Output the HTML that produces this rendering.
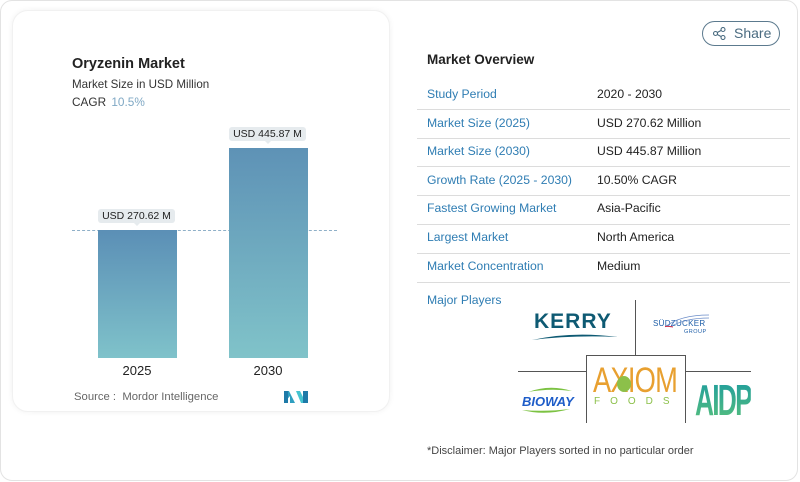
<!DOCTYPE html>
<html><head><meta charset="utf-8">
<style>
*{margin:0;padding:0;box-sizing:border-box}
html,body{width:800px;height:482px;background:#fff;overflow:hidden;font-family:"Liberation Sans",sans-serif}
.outer{position:absolute;left:0;top:0;width:798px;height:481px;border:1px solid #e3e3e3;border-radius:12px;background:#fff}
.card{position:absolute;left:12px;top:10px;width:378px;height:402px;border-radius:16px;background:#fff;box-shadow:0 0 6px rgba(0,0,0,0.06);border:1px solid #f1f1f1}
.t{position:absolute;white-space:nowrap}
.bar{position:absolute;background:linear-gradient(#5b8fb6,#7fc2ca)}
.bub{position:absolute;height:14px;background:#e6ebee;border-radius:3px;font-size:10.5px;color:#222;text-align:center;line-height:14px}
.bub:after{content:"";position:absolute;left:50%;bottom:-3px;margin-left:-3px;border-left:3px solid transparent;border-right:3px solid transparent;border-top:3px solid #e6ebee}
.lab{position:absolute;left:427px;font-size:12.2px;color:#2f7db3;white-space:nowrap}
.val{position:absolute;left:597px;font-size:12.2px;color:#222;white-space:nowrap}
.sep{position:absolute;left:417px;width:373px;height:1px;background:#dcdcdc}
.ln{position:absolute;background:#555}
</style></head><body>
<div class="outer"></div>
<div class="card"></div>

<div class="t" style="left:72px;top:56px;font-size:14.5px;font-weight:bold;color:#222">Oryzenin Market</div>
<div class="t" style="left:72px;top:78px;font-size:11.6px;color:#333">Market Size in USD Million</div>
<div class="t" style="left:72px;top:95px;font-size:11.8px;color:#333">CAGR <span style="color:#7fa8c4;margin-left:2px">10.5%</span></div>

<div class="t" style="left:72px;top:230px;width:265px;border-top:1px dashed #8fb0c8"></div>
<div class="bar" style="left:98px;top:230px;width:79px;height:128px"></div>
<div class="bar" style="left:229px;top:148px;width:79px;height:210px;background:linear-gradient(#5e92b6,#80c3c9)"></div>

<div class="bub" style="left:98px;top:209px;width:77px">USD 270.62 M</div>
<div class="bub" style="left:229px;top:127px;width:77px">USD 445.87 M</div>

<div class="t" style="left:117px;top:363px;width:40px;text-align:center;font-size:13px;color:#222">2025</div>
<div class="t" style="left:248px;top:363px;width:40px;text-align:center;font-size:13px;color:#222">2030</div>

<div class="t" style="left:74px;top:391px;font-size:11.3px;color:#666">Source :&nbsp; Mordor Intelligence</div>
<svg style="position:absolute;left:284px;top:391px" width="24" height="12" viewBox="0 0 24 12">
<polygon points="0,0 5,0 11,12 6,12 6,5 0,12" fill="#2f9fc0"/>
<polygon points="0,0 4,0 4,12 0,12" fill="#1e7aa8"/>
<polygon points="12,0 16,0 22,12 17,12" fill="#45c4d0"/>
<polygon points="19,0 24,0 24,12 19,12" fill="#1e7aa8"/>
</svg>

<div class="t" style="left:702px;top:21px;width:78px;height:25px;border:1px solid #5c7a8e;border-radius:13px"></div>
<svg style="position:absolute;left:713px;top:27px" width="13" height="13" viewBox="0 0 13 13">
<circle cx="10" cy="2.5" r="2" fill="none" stroke="#4a6b80" stroke-width="1.1"/>
<circle cx="2.5" cy="6.5" r="2" fill="none" stroke="#4a6b80" stroke-width="1.1"/>
<circle cx="10" cy="10.5" r="2" fill="none" stroke="#4a6b80" stroke-width="1.1"/>
<line x1="4.3" y1="5.5" x2="8.2" y2="3.4" stroke="#4a6b80" stroke-width="1.1"/>
<line x1="4.3" y1="7.5" x2="8.2" y2="9.6" stroke="#4a6b80" stroke-width="1.1"/>
</svg>
<div class="t" style="left:734px;top:25px;font-size:14px;color:#4a6b80">Share</div>

<div class="t" style="left:427px;top:52px;font-size:13.5px;font-weight:bold;color:#222">Market Overview</div>

<div class="lab" style="top:87px">Study Period</div><div class="val" style="top:87px">2020 - 2030</div>
<div class="sep" style="top:109px"></div>
<div class="lab" style="top:116px">Market Size (2025)</div><div class="val" style="top:116px">USD 270.62 Million</div>
<div class="sep" style="top:138px"></div>
<div class="lab" style="top:144px">Market Size (2030)</div><div class="val" style="top:144px">USD 445.87 Million</div>
<div class="sep" style="top:166px"></div>
<div class="lab" style="top:173px">Growth Rate (2025 - 2030)</div><div class="val" style="top:173px">10.50% CAGR</div>
<div class="sep" style="top:195px"></div>
<div class="lab" style="top:201px">Fastest Growing Market</div><div class="val" style="top:201px">Asia-Pacific</div>
<div class="sep" style="top:224px"></div>
<div class="lab" style="top:230px">Largest Market</div><div class="val" style="top:230px">North America</div>
<div class="sep" style="top:253px"></div>
<div class="lab" style="top:259px">Market Concentration</div><div class="val" style="top:259px">Medium</div>
<div class="sep" style="top:282px"></div>
<div class="lab" style="top:293px">Major Players</div>

<!-- logo grid lines -->
<div class="ln" style="left:635px;top:300px;width:1px;height:55px"></div>
<div class="ln" style="left:586px;top:355px;width:100px;height:1px"></div>
<div class="ln" style="left:586px;top:355px;width:1px;height:68px"></div>
<div class="ln" style="left:685px;top:355px;width:1px;height:68px"></div>
<div class="ln" style="left:518px;top:371px;width:68px;height:1px"></div>
<div class="ln" style="left:686px;top:371px;width:65px;height:1px"></div>

<!-- KERRY -->
<div class="t" style="left:534px;top:310px;font-size:21px;font-weight:bold;color:#0e5a73;letter-spacing:1px">KERRY</div>
<svg style="position:absolute;left:532px;top:332px" width="86" height="9" viewBox="0 0 86 9"><path d="M0,8 Q40,-1 86,5 Q40,3 0,8Z" fill="#0e5a73"/></svg>

<!-- Sudzucker -->
<div class="t" style="left:653px;top:319px;font-size:8px;color:#1f5fa8;letter-spacing:0.3px">SÜDZUCKER</div>
<div class="t" style="left:684px;top:329px;font-size:5.5px;color:#1f5fa8;letter-spacing:0.5px">GROUP</div>
<svg style="position:absolute;left:665px;top:313px" width="45" height="16" viewBox="0 0 45 16"><path d="M0,14 Q15,2 44,2" stroke="#6a8cc8" stroke-width="0.8" fill="none"/><path d="M5,14 Q20,5 44,5" stroke="#6a8cc8" stroke-width="0.8" fill="none"/><path d="M-10,16 Q0,12 8,14" stroke="#d0304a" stroke-width="1" fill="none"/></svg>

<!-- BIOWAY -->
<svg style="position:absolute;left:520px;top:386px" width="56" height="30" viewBox="0 0 56 30"><path d="M8,6 Q30,-2 52,5 Q30,2 8,6Z" fill="#7cc242"/><path d="M2,24 Q25,30 50,23 Q25,26 2,24Z" fill="#7cc242"/></svg>
<div class="t" style="left:522px;top:394px;font-size:13px;font-weight:bold;font-style:italic;color:#1d5cc8">BIOWAY</div>

<!-- AXIOM -->
<div class="t" style="left:593px;top:361px;font-size:35px;color:#e8a030;letter-spacing:-1px;transform:scaleX(0.78);transform-origin:left top">AXIOM</div>
<svg style="position:absolute;left:616px;top:374px" width="16" height="18" viewBox="0 0 16 18"><ellipse cx="8" cy="10" rx="7" ry="8" fill="#8cc04a"/></svg>
<div class="t" style="left:594px;top:396px;font-size:10px;color:#8cc04a;letter-spacing:10px">FOODS</div>

<!-- AIDP -->
<div class="t" style="left:695px;top:376px;font-size:44px;font-weight:bold;letter-spacing:-3px;transform:scaleX(0.6);transform-origin:left top;background:linear-gradient(#1a9aa0,#5cc27a);-webkit-background-clip:text;background-clip:text;color:transparent">AIDP</div>

<div class="t" style="left:427px;top:445px;font-size:11px;color:#444">*Disclaimer: Major Players sorted in no particular order</div>
</body></html>
